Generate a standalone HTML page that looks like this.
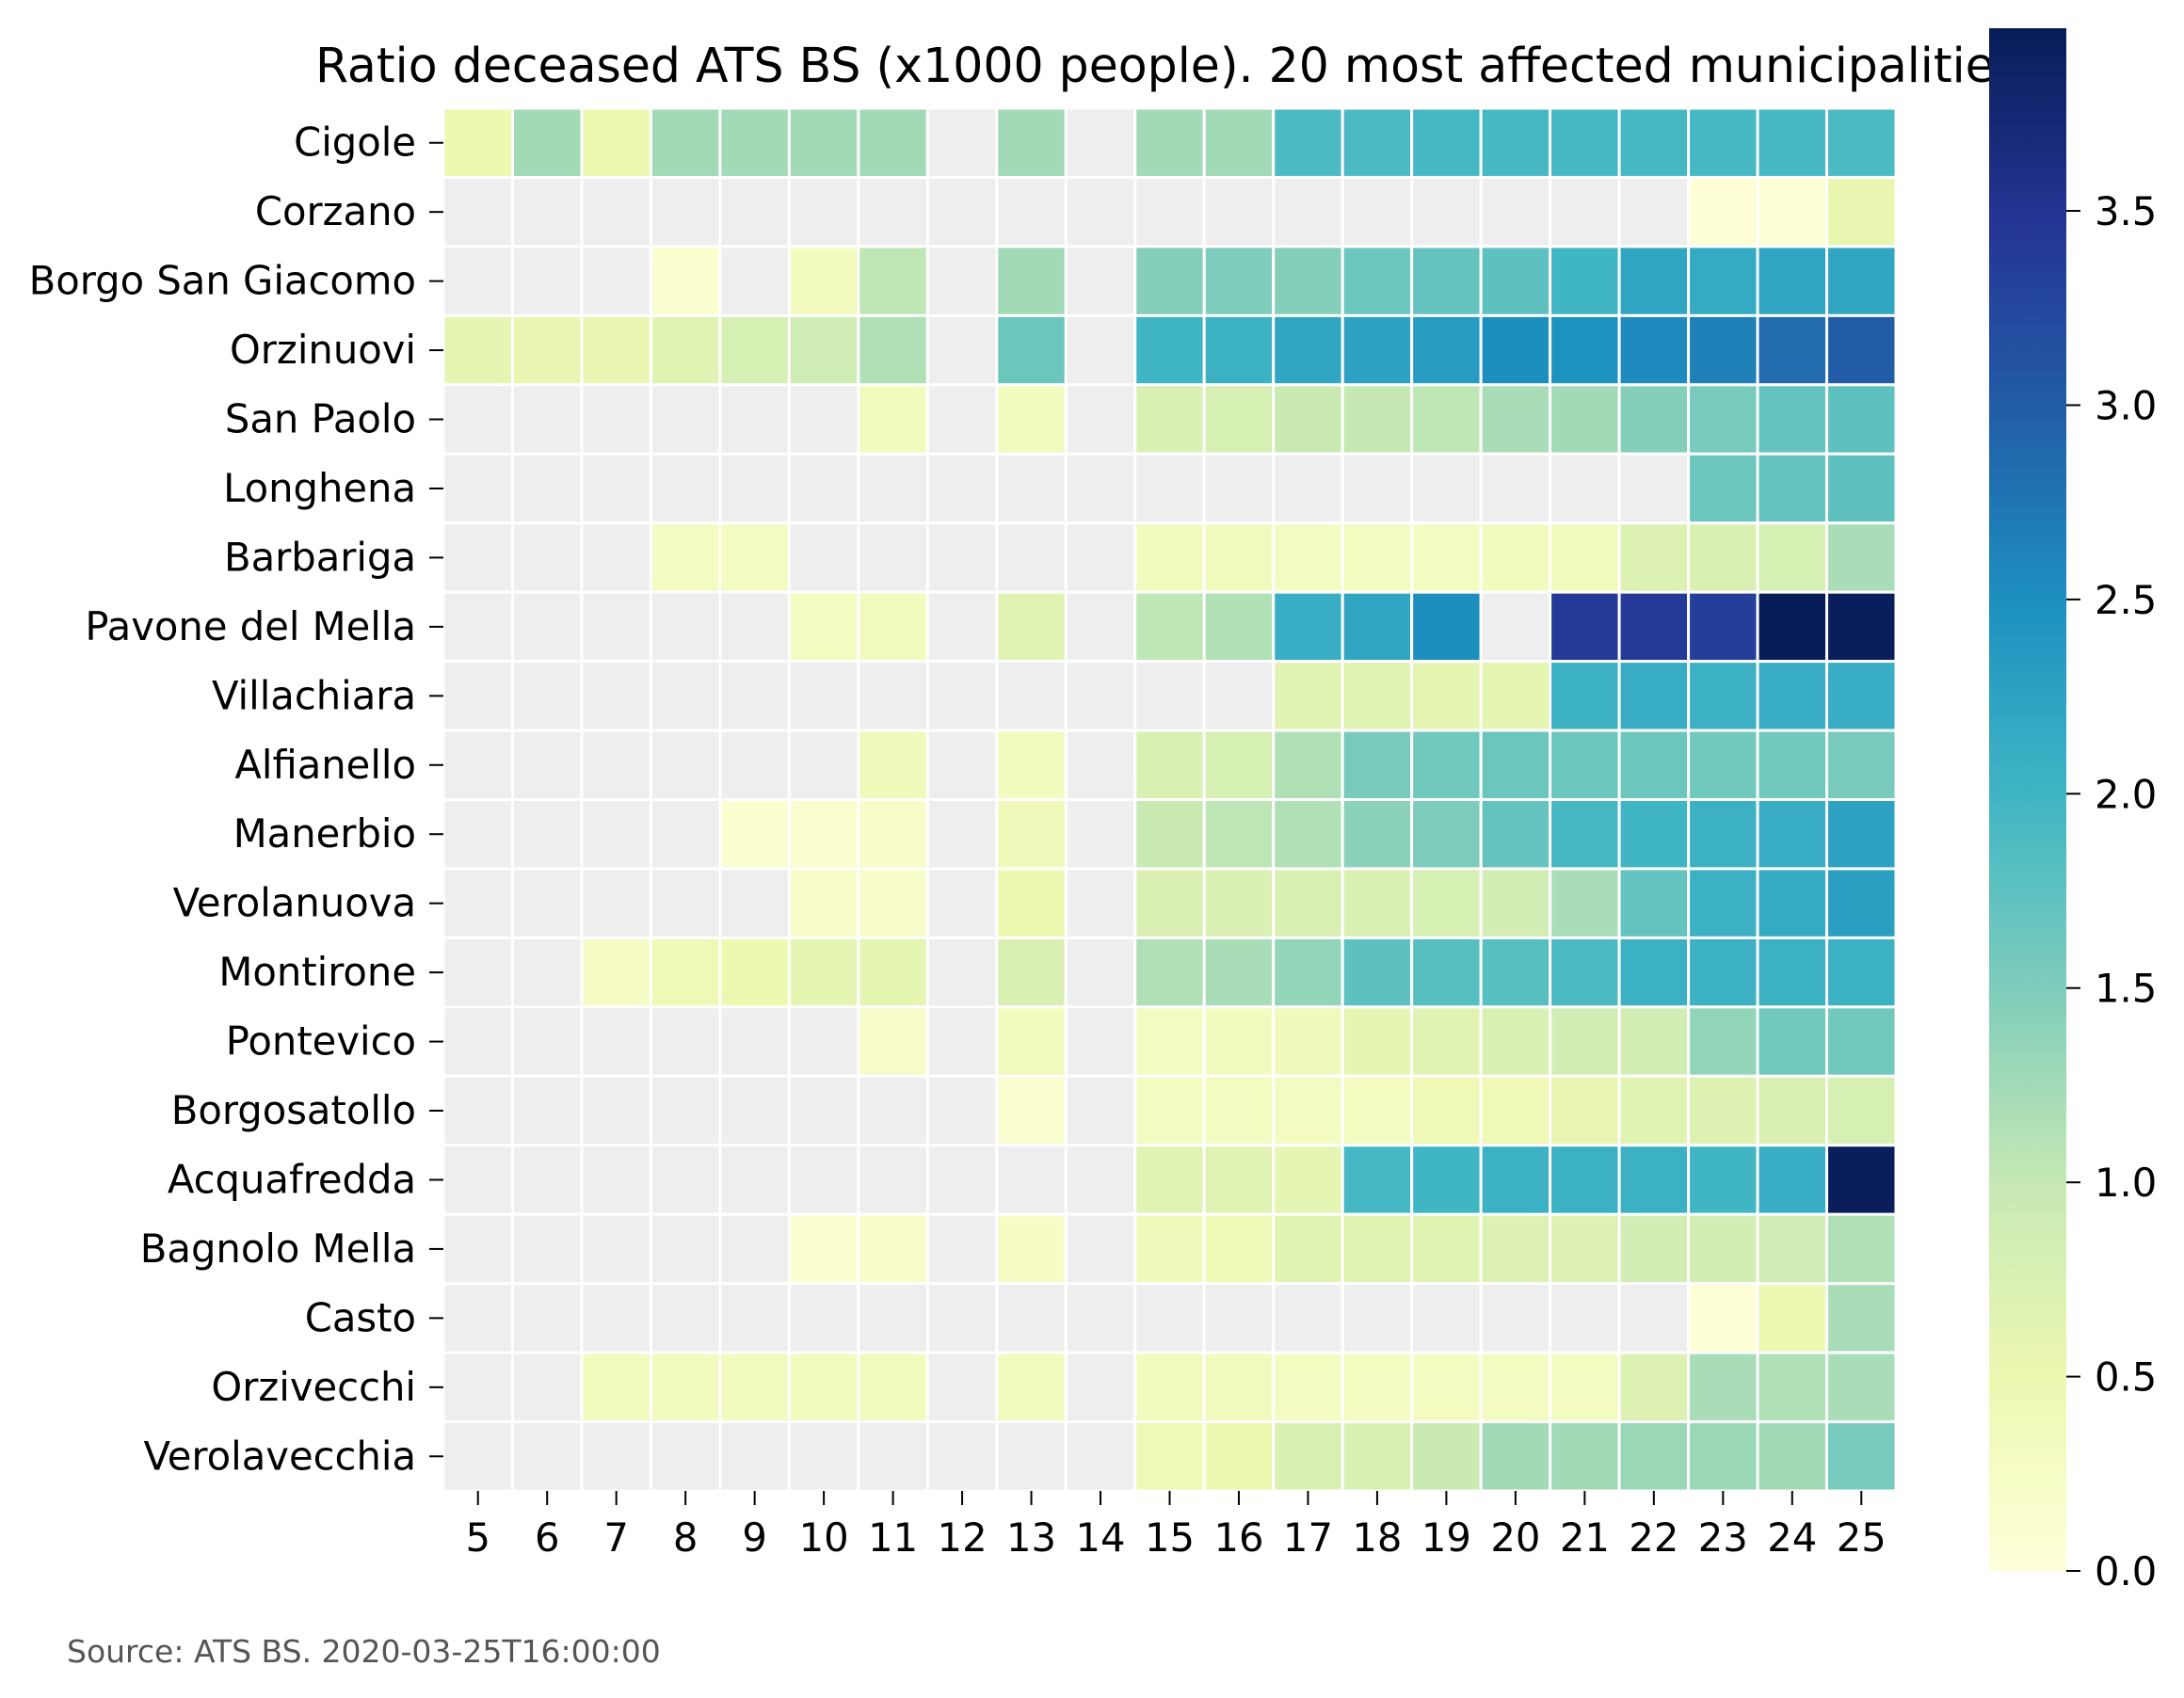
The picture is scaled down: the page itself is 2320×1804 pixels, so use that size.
<!DOCTYPE html>
<html><head><meta charset="utf-8"><style>
html,body{margin:0;padding:0;background:#fff;}
svg{display:block;font-family:"DejaVu Sans","Liberation Sans",sans-serif;}
</style></head><body>
<svg id="chart" width="2320" height="1804" viewBox="0 0 2320 1804" xmlns="http://www.w3.org/2000/svg">
<defs><linearGradient id="cbg" x1="0" y1="1" x2="0" y2="0">
<stop offset="0" stop-color="#ffffd9"/><stop offset="0.125" stop-color="#edf8b1"/><stop offset="0.25" stop-color="#c7e9b4"/><stop offset="0.375" stop-color="#7fcdbb"/><stop offset="0.5" stop-color="#41b6c4"/><stop offset="0.625" stop-color="#1d91c0"/><stop offset="0.75" stop-color="#225ea8"/><stop offset="0.875" stop-color="#253494"/><stop offset="1" stop-color="#081d58"/></linearGradient></defs>
<text x="1240" y="87" text-anchor="middle" font-size="50.5" fill="#000">Ratio deceased ATS BS (x1000 people). 20 most affected municipalities</text>
<g id="cells"></g><g id="yaxis"></g><g id="xaxis"></g>
<rect x="2113" y="30" width="82" height="1639" fill="url(#cbg)"/>
<g id="cbaxis"></g>
<text x="71" y="1766" font-size="33" fill="#555">Source: ATS BS. 2020-03-25T16:00:00</text>
</svg>
<script>
const days = [5,6,7,8,9,10,11,12,13,14,15,16,17,18,19,20,21,22,23,24,25];
const towns = ["Cigole","Corzano","Borgo San Giacomo","Orzinuovi","San Paolo","Longhena","Barbariga","Pavone del Mella","Villachiara","Alfianello","Manerbio","Verolanuova","Montirone","Pontevico","Borgosatollo","Acquafredda","Bagnolo Mella","Casto","Orzivecchi","Verolavecchia"];
const N=null;
const vCigole=[0.5,1.25,0.5,1.25,1.25,1.25,1.25,N,1.25,N,1.25,1.25,1.9,1.9,1.95,1.95,1.95,1.95,1.95,1.95,1.9];
const vCorzano=[N,N,N,N,N,N,N,N,N,N,N,N,N,N,N,N,N,N,0.05,0.08,0.55];
const vBorgoSG=[N,N,N,0.15,N,0.35,1.05,N,1.25,N,1.45,1.5,1.45,1.65,1.7,1.75,2.0,2.2,2.15,2.2,2.2];
const vOrzinuovi=[0.6,0.55,0.55,0.65,0.8,0.9,1.15,N,1.65,N,2.0,2.05,2.2,2.25,2.35,2.5,2.45,2.55,2.65,2.85,3.0];
const vSanPaolo=[N,N,N,N,N,N,0.35,N,0.35,N,0.75,0.8,0.95,1.0,1.05,1.2,1.25,1.45,1.55,1.7,1.75];
const vLonghena=[N,N,N,N,N,N,N,N,N,N,N,N,N,N,N,N,N,N,1.65,1.7,1.75];
const vBarbariga=[N,N,N,0.3,0.3,N,N,N,N,N,0.35,0.35,0.3,0.3,0.3,0.35,0.35,0.7,0.75,0.8,1.2];
const vPavone=[N,N,N,N,N,0.3,0.35,N,0.65,N,1.05,1.15,2.1,2.2,2.5,N,3.4,3.4,3.35,3.97,3.95];
const vVillachiara=[N,N,N,N,N,N,N,N,N,N,N,N,0.65,0.65,0.6,0.6,2.05,2.1,2.05,2.1,2.1];
const vAlfianello=[N,N,N,N,N,N,0.4,N,0.35,N,0.75,0.8,1.15,1.55,1.6,1.65,1.65,1.65,1.6,1.6,1.55];
const vManerbio=[N,N,N,N,0.1,0.15,0.2,N,0.4,N,0.95,1.05,1.15,1.4,1.5,1.7,1.95,2.0,2.05,2.1,2.25];
const vVerolanuova=[N,N,N,N,N,0.2,0.2,N,0.5,N,0.75,0.75,0.75,0.75,0.8,0.85,1.2,1.7,2.05,2.15,2.3];
const vMontirone=[N,N,0.25,0.45,0.5,0.6,0.6,N,0.75,N,1.15,1.2,1.35,1.75,1.8,1.8,1.9,2.05,2.05,2.05,2.05];
const vPontevico=[N,N,N,N,N,N,0.2,N,0.35,N,0.3,0.35,0.4,0.6,0.65,0.75,0.85,0.85,1.35,1.6,1.6];
const vBorgosatollo=[N,N,N,N,N,N,N,N,0.1,N,0.3,0.3,0.3,0.3,0.45,0.45,0.55,0.65,0.7,0.75,0.8];
const vAcquafredda=[N,N,N,N,N,N,N,N,N,N,0.65,0.65,0.6,1.95,2.0,2.05,2.05,2.05,2.0,2.1,3.95];
const vBagnolo=[N,N,N,N,N,0.1,0.2,N,0.25,N,0.4,0.45,0.65,0.65,0.65,0.7,0.7,0.85,0.85,0.9,1.15];
const vCasto=[N,N,N,N,N,N,N,N,N,N,N,N,N,N,N,N,N,N,0.05,0.5,1.2];
const vOrzivecchi=[N,N,0.35,0.35,0.35,0.35,0.35,N,0.35,N,0.35,0.35,0.3,0.3,0.3,0.3,0.3,0.7,1.2,1.15,1.2];
const vVerolavecchia=[N,N,N,N,N,N,N,N,N,N,0.45,0.5,0.75,0.75,0.95,1.25,1.25,1.3,1.3,1.25,1.55];
const cbTicks=[0,0.5,1.0,1.5,2.0,2.5,3.0,3.5];
const cbLabels=["0.0","0.5","1.0","1.5","2.0","2.5","3.0","3.5"];
const rows=[vCigole,vCorzano,vBorgoSG,vOrzinuovi,vSanPaolo,vLonghena,vBarbariga,vPavone,vVillachiara,vAlfianello,vManerbio,vVerolanuova,vMontirone,vPontevico,vBorgosatollo,vAcquafredda,vBagnolo,vCasto,vOrzivecchi,vVerolavecchia];

const L=471,R=2014,T=115,B=1584,VMAX=3.97;
const cw=(R-L)/days.length, ch=(B-T)/towns.length;
const xPos=i=>L+i*cw, yPos=j=>T+j*ch;
const cbY=v=>1669-v*(1639/VMAX);
const stops=["#ffffd9","#edf8b1","#c7e9b4","#7fcdbb","#41b6c4","#1d91c0","#225ea8","#253494","#081d58"].map(h=>[1,3,5].map(k=>parseInt(h.substr(k,2),16)));
function color(v){let t=Math.max(0,Math.min(1,v/VMAX))*8;let i=Math.min(7,Math.floor(t));let f=t-i;
const c=stops[i].map((a,k)=>Math.round(a+(stops[i+1][k]-a)*f));return `rgb(${c})`;}
const NS="http://www.w3.org/2000/svg";
function mk(tag,attrs,parent){const e=document.createElementNS(NS,tag);for(const k in attrs)e.setAttribute(k,attrs[k]);parent.appendChild(e);return e;}
const gc=document.getElementById('cells'),gy=document.getElementById('yaxis'),gx=document.getElementById('xaxis'),gb=document.getElementById('cbaxis');
rows.forEach((row,j)=>{row.forEach((v,i)=>{
 const r=mk('rect',{x:xPos(i),y:yPos(j),width:cw,height:ch,fill:v===null?'#eeeeee':color(v),stroke:'#fff','stroke-width':3},gc);
 
 
});});
towns.forEach((t,j)=>{const cy=yPos(j)+ch/2;
 mk('line',{x1:L-15,x2:L,y1:cy,y2:cy,stroke:'#000','stroke-width':2},gy);
 const tx=mk('text',{x:L-29,y:cy+14,'text-anchor':'end','font-size':41.7},gy);tx.textContent=t;
 
 
});
days.forEach((d,i)=>{const cx=xPos(i)+cw/2;
 mk('line',{x1:cx,x2:cx,y1:B,y2:B+15,stroke:'#000','stroke-width':2},gx);
 const tx=mk('text',{x:cx,y:B+64,'text-anchor':'middle','font-size':41.7},gx);tx.textContent=d;
 
 
});
cbTicks.forEach((v,k)=>{const y=cbY(v);
 mk('line',{x1:2195,x2:2210,y1:y,y2:y,stroke:'#000','stroke-width':2},gb);
 const tx=mk('text',{x:2225,y:y+15,'font-size':41.7},gb);tx.textContent=cbLabels[k];
 
 
});
</script>
</body></html>
